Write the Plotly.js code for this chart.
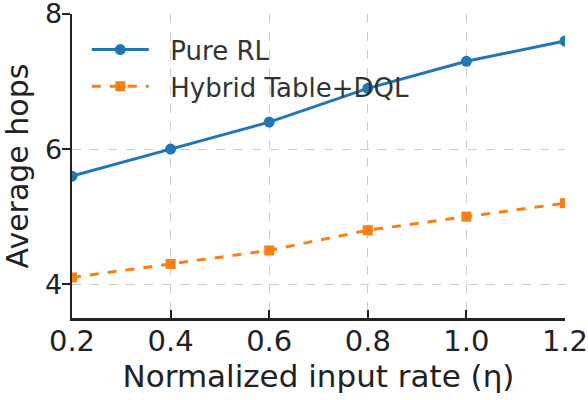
<!DOCTYPE html>
<html>
<head>
<meta charset="utf-8">
<script src="https://cdn.plot.ly/plotly-3.0.1.min.js"></script>
<style>
  html, body { margin: 0; padding: 0; background: #fff; }
  #chart { width: 588px; height: 400px; }
</style>
</head>
<body>
<div id="chart"></div>
<script>
const rates = [0.2, 0.4, 0.6, 0.8, 1.0, 1.2];
const pureRL = [5.6, 6.0, 6.4, 6.9, 7.3, 7.6];
const hybrid = [4.1, 4.3, 4.5, 4.8, 5.0, 5.2];
const xTicks = [0.2, 0.4, 0.6, 0.8, 1.0, 1.2];
const xTickText = ['0.2', '0.4', '0.6', '0.8', '1.0', '1.2'];
const yTicks = [4, 6, 8];
const seriesNames = ['Pure RL', 'Hybrid Table+DQL'];

const font = 'DejaVu Sans, sans-serif';
// legend text sits a bit further from its swatch than plotly's default gap
const pad = '\u00a0\u00a0';

const traces = [
  {
    x: rates, y: pureRL, name: pad + seriesNames[0],
    type: 'scatter', mode: 'lines+markers',
    line: { color: '#1f77b4', width: 3 },
    marker: { color: '#1f77b4', symbol: 'circle', size: 11 }
  },
  {
    x: rates, y: hybrid, name: pad + seriesNames[1],
    type: 'scatter', mode: 'lines+markers',
    line: { color: '#ff7f0e', width: 3, dash: 'dash' },
    marker: { color: '#ff7f0e', symbol: 'square', size: 10 }
  }
];

const layout = {
  width: 588, height: 400,
  margin: { l: 72, r: 23, t: 14, b: 82 },
  paper_bgcolor: '#fff', plot_bgcolor: '#fff',
  font: { family: font, color: '#222' },
  showlegend: true,
  legend: {
    x: 0.03, y: 0.96, xanchor: 'left', yanchor: 'top',
    bgcolor: 'rgba(255,255,255,0)',
    font: { family: font, size: 26, color: '#333' },
    itemwidth: 57,
    tracegroupgap: 0
  },
  xaxis: {
    range: [0.2, 1.2],
    tickvals: xTicks, ticktext: xTickText,
    tickfont: { family: font, size: 29, color: '#222' },
    ticks: 'inside', ticklen: 8, tickwidth: 2, tickcolor: '#222',
    ticklabeloverflow: 'allow', ticklabelstandoff: -4,
    showline: true, linecolor: '#222', linewidth: 2.5, mirror: false,
    showgrid: true, gridcolor: '#cccccc', griddash: 'dash', gridwidth: 1,
    zeroline: false,
    title: { text: 'Normalized input rate (η)', font: { family: font, size: 31, color: '#222' }, standoff: 8 }
  },
  yaxis: {
    range: [3.5, 8],
    tickvals: yTicks,
    tickfont: { family: font, size: 27, color: '#222' },
    ticks: 'outside', ticklen: 8, tickwidth: 2, tickcolor: '#222',
    ticklabeloverflow: 'allow', ticklabelstandoff: -6,
    showline: true, linecolor: '#222', linewidth: 2.5, mirror: false,
    showgrid: true, gridcolor: '#cccccc', griddash: 'dash', gridwidth: 1,
    zeroline: false,
    title: { text: 'Average hops', font: { family: font, size: 30, color: '#222' }, standoff: 12 }
  }
};

Plotly.newPlot('chart', traces, layout, { displayModeBar: false, staticPlot: true });
</script>
</body>
</html>
